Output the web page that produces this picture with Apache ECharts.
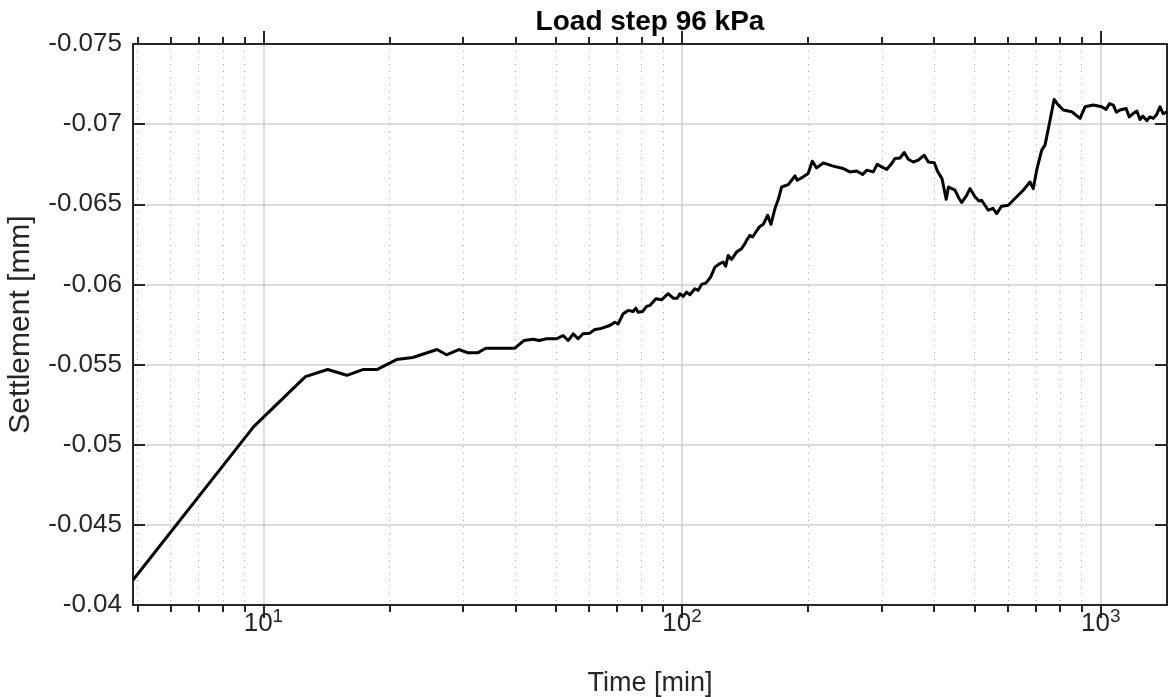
<!DOCTYPE html>
<html>
<head>
<meta charset="utf-8">
<script src="https://cdn.jsdelivr.net/npm/echarts@6/dist/echarts.min.js"></script>
<style>
html,body{margin:0;padding:0;background:#ffffff;}
#chart{width:1168px;height:697px;}
</style>
</head>
<body>
<div id="chart"></div>
<script>
// ---- data ----
const times = [4.88, 9.48, 12.60, 14.24, 15.82, 17.28, 18.66, 20.79, 22.74, 25.99,
  27.37, 29.29, 30.83, 32.47, 33.98, 39.86, 41.88, 44.08, 45.56, 47.45,
  50.13, 51.99, 53.44, 54.94, 56.43, 58.02, 60.21, 61.90, 63.62, 67.22,
  69.09, 70.36, 72.33, 74.33, 76.41, 77.55, 78.54, 80.46, 82.26, 83.78,
  86.59, 89.33, 92.64, 95.23, 97.34, 98.80, 100.6, 102.5, 104.4, 107.3,
  109.3, 111.3, 114.0, 117.0, 119.8, 123.1, 125.4, 127.1, 128.9, 131.3,
  134.9, 138.7, 141.3, 142.6, 145.2, 147.4, 150.1, 152.9, 156.3, 160.1,
  163.0, 166.7, 169.8, 172.9, 179.3, 182.7, 186.1, 188.4, 194.7, 200.1,
  204.6, 209.6, 217.4, 229.6, 242.7, 251.8, 261.2, 270.0, 276.0, 286.2,
  292.6, 299.8, 308.1, 316.7, 322.5, 331.5, 339.4, 347.0, 356.7, 366.6,
  378.9, 387.4, 400.4, 407.5, 417.7, 422.3, 427.6, 432.8, 448.6, 458.5,
  465.4, 478.4, 487.2, 500.7, 511.9, 519.5, 538.7, 552.8, 564.2, 579.9,
  601.4, 624.0, 653.2, 677.7, 690.2, 703.2, 722.9, 736.1, 754.1, 773.9,
  792.3, 814.4, 852.8, 892.7, 917.6, 960.2, 1005.6, 1030, 1050, 1071.7,
  1090, 1112.0, 1150, 1170, 1196.5, 1220, 1241.4, 1260, 1290, 1310,
  1335.9, 1360, 1386.0, 1410, 1440];

const settlement = [-0.04156, -0.05113, -0.05425, -0.05469, -0.05433, -0.05469, -0.05469, -0.05531, -0.05544, -0.05594,
  -0.05561, -0.05594, -0.05573, -0.05573, -0.05602, -0.05602, -0.0565, -0.05658, -0.0565, -0.05661,
  -0.05661, -0.05681, -0.0565, -0.05692, -0.05661, -0.05692, -0.05696, -0.05719, -0.05723, -0.05744,
  -0.05764, -0.05754, -0.05817, -0.05838, -0.05831, -0.05852, -0.05827, -0.05831, -0.05863, -0.05869,
  -0.05911, -0.05904, -0.05942, -0.05914, -0.05914, -0.05942, -0.05925, -0.05952, -0.05936, -0.05973,
  -0.05963, -0.06, -0.06008, -0.06046, -0.06108, -0.0613, -0.0614, -0.06114, -0.06181, -0.06156,
  -0.06202, -0.06223, -0.06254, -0.06275, -0.06306, -0.06296, -0.06327, -0.06358, -0.06375, -0.06431,
  -0.06375, -0.06473, -0.06531, -0.06608, -0.06623, -0.0665, -0.06677, -0.0665, -0.06671, -0.06692,
  -0.06769, -0.06727, -0.06758, -0.06738, -0.06723, -0.06702, -0.06708, -0.06686, -0.06713, -0.06702,
  -0.0675, -0.06733, -0.06717, -0.06754, -0.06786, -0.06789, -0.06823, -0.06781, -0.06764, -0.06775,
  -0.06806, -0.06764, -0.06759, -0.06706, -0.0666, -0.06598, -0.06531, -0.06608, -0.06588, -0.06538,
  -0.06511, -0.06556, -0.06598, -0.06547, -0.0652, -0.06525, -0.06463, -0.06475, -0.06442, -0.06488,
  -0.06494, -0.06536, -0.06588, -0.06639, -0.06598, -0.06713, -0.06838, -0.06869, -0.07004, -0.07154,
  -0.07119, -0.07088, -0.07077, -0.07036, -0.07108, -0.07119, -0.07108, -0.07092, -0.07128, -0.07119,
  -0.07075, -0.07088, -0.07098, -0.07045, -0.07067, -0.07082, -0.07029, -0.0705, -0.07022, -0.07045,
  -0.07036, -0.0706, -0.07108, -0.07065, -0.07077];

const majorTicks = [10, 100, 1000];
const minorTicks = [5, 6, 7, 8, 9, 20, 30, 40, 50, 60, 70, 80, 90, 200, 300, 400, 500, 600, 700, 800, 900];
const xRange = [4.88, 1440];
const yRange = [-0.075, -0.04];
const yStep = 0.005;

const chartTitle = 'Load step 96 kPa';
const xTitle = 'Time [min]';
const yTitle = 'Settlement [mm]';

// ---- chart ----
const FONT = '"Liberation Sans", Arial, Helvetica, sans-serif';
const INK = '#262626';
const seriesData = times.map((t, i) => [t, settlement[i]]);

function logAxis(extra) {
  return Object.assign({
    type: 'log', logBase: 10, min: xRange[0], max: xRange[1], gridIndex: 0,
    axisLine: { show: false }, axisLabel: { show: false }, splitLine: { show: false },
    axisTick: { show: false }, axisPointer: { show: false }
  }, extra);
}

const chart = echarts.init(document.getElementById('chart'), null, { renderer: 'canvas' });
chart.setOption({
  animation: false,
  backgroundColor: '#ffffff',
  textStyle: { fontFamily: FONT },
  grid: { left: 133, right: 1, top: 44, bottom: 92, containLabel: false, outerBoundsMode: 'none' },
  xAxis: [
    logAxis({
      position: 'bottom',
      name: xTitle, nameLocation: 'middle', nameGap: 65,
      nameTextStyle: { fontFamily: FONT, fontSize: 27, color: INK },
      axisLine: { show: true, onZero: false, lineStyle: { color: INK, width: 2 } },
      axisTick: { show: true, customValues: majorTicks, length: 13, lineStyle: { color: INK, width: 2 } },
      axisLabel: {
        show: true, customValues: majorTicks, margin: 2,
        formatter: v => '{b|10}{s|' + Math.round(Math.log10(v)) + '}',
        rich: {
          b: { fontFamily: FONT, fontSize: 26, color: INK, lineHeight: 30, verticalAlign: 'bottom' },
          s: { fontFamily: FONT, fontSize: 19, color: INK, lineHeight: 2, verticalAlign: 'top' }
        }
      },
      splitLine: { show: true, lineStyle: { color: '#d0d0d0', width: 1.5, type: 'solid' } }
    }),
    logAxis({
      position: 'bottom',
      axisTick: { show: true, customValues: minorTicks, length: 7, lineStyle: { color: INK, width: 2 } },
      splitLine: { show: true, lineStyle: { color: '#9c9c9c', width: 1, type: [1, 5.7] } }
    }),
    logAxis({
      position: 'top',
      name: chartTitle, nameLocation: 'middle', nameGap: 8,
      nameTextStyle: { fontFamily: FONT, fontSize: 28, fontWeight: 'bold', color: '#000000' },
      axisLine: { show: true, onZero: false, lineStyle: { color: INK, width: 2 } },
      axisTick: { show: true, customValues: majorTicks, length: 13, lineStyle: { color: INK, width: 2 } }
    }),
    logAxis({
      position: 'top',
      axisTick: { show: true, customValues: minorTicks, length: 7, lineStyle: { color: INK, width: 2 } }
    })
  ],
  yAxis: [
    {
      type: 'value', position: 'left', inverse: true,
      min: yRange[0], max: yRange[1], interval: yStep,
      name: yTitle, nameLocation: 'middle', nameGap: 97,
      nameTextStyle: { fontFamily: FONT, fontSize: 30, color: INK },
      axisLine: { show: true, onZero: false, lineStyle: { color: INK, width: 2 } },
      axisTick: { show: true, inside: true, length: 12, lineStyle: { color: INK, width: 2 } },
      axisLabel: { show: true, fontFamily: FONT, fontSize: 26, color: INK, margin: 11 },
      splitLine: { show: true, lineStyle: { color: '#d0d0d0', width: 1.5 } }
    },
    {
      type: 'value', position: 'right', inverse: true,
      min: yRange[0], max: yRange[1], interval: yStep,
      axisLine: { show: true, onZero: false, lineStyle: { color: INK, width: 2 } },
      axisTick: { show: true, inside: true, length: 12, lineStyle: { color: INK, width: 2 } },
      axisLabel: { show: false },
      splitLine: { show: false }
    }
  ],
  series: [{
    type: 'line',
    xAxisIndex: 0, yAxisIndex: 0,
    data: seriesData,
    showSymbol: false, symbol: 'none',
    clip: true,
    lineStyle: { color: '#000000', width: 3, join: 'round' },
    itemStyle: { color: '#000000' },
    z: 10
  }]
});
</script>
</body>
</html>
